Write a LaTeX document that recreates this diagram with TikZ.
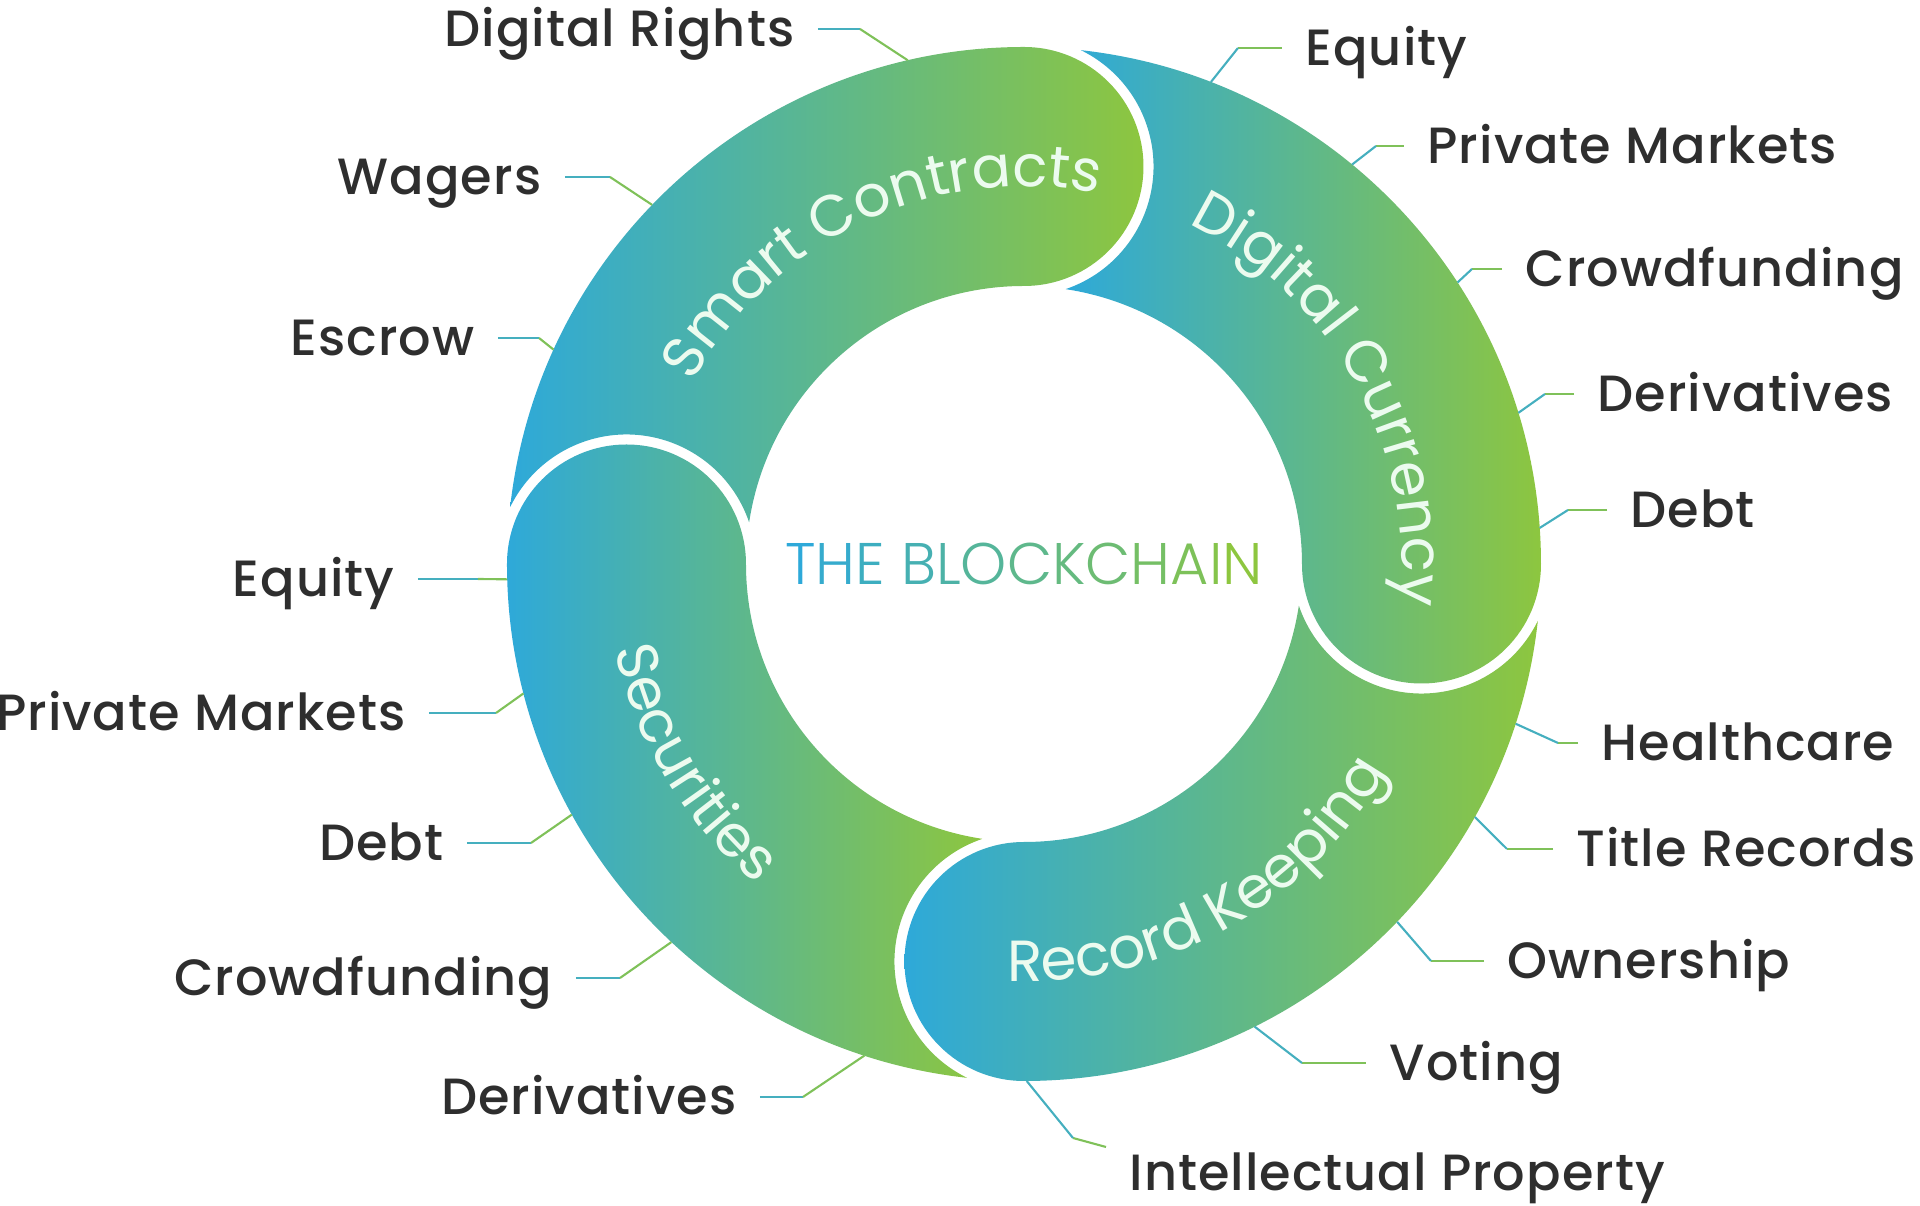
\documentclass[tikz,border=0pt]{standalone}
\usepackage{fontspec}
\setmainfont{Poppins}
\newfontfamily\lightfont{Poppins Light}
\newfontfamily\lblfont{Poppins Medium}[LetterSpace=2.0]
\usetikzlibrary{decorations.text}
\definecolor{bcblue}{HTML}{2EA9D9}
\definecolor{bcgreen}{HTML}{8DC63F}
\definecolor{bcteal}{HTML}{45AFBF}
\definecolor{bctext}{HTML}{2E2E2E}
\definecolor{bcpale}{HTML}{ECFBEF}

\begin{document}
\begin{tikzpicture}[x=0.1mm, y=0.1mm,
  lbl/.style={text=bctext, font=\lblfont\fontsize{14.5}{17}\selectfont, inner xsep=2.3mm, inner ysep=0pt, text height=10.1pt, text depth=0pt},
  lnblue/.style={draw=bcteal, line width=0.6pt},
  lngreen/.style={draw=bcgreen!80!bcteal, line width=0.6pt},
  ringtext/.style={decorate, decoration={text along path, text align=center, text={|\fontsize{16.5}{19}\selectfont\color{bcpale}|#1}}}]
\useasboundingbox (-1024,-642) rectangle (896,564);

% ring pieces: outer 517, inner 278, cap 119.5, gap 10
\foreach \a/\b in {180/90, 90/0, 0/-90, 270/180}
  \shade[left color=bcblue, right color=bcgreen]
    ({\a-6.31}:517) arc[start angle=\a-6.31, end angle=\b, radius=517]
    arc[start angle=\b, end angle=\b-180, radius=119.5]
    arc[start angle=\b, end angle=\a-8.61, radius=278]
    arc[start angle=\a-161.26, end angle=\a-26.03, radius=129.5] -- cycle;

\path[ringtext=Smart Contracts] (160:377.5) arc[start angle=160, end angle=70, radius=377.5];
\path[ringtext=Digital Currency] (74:377.5) arc[start angle=74, end angle=-16, radius=377.5];
\path[ringtext=Record Keeping] (-106:417.5) arc[start angle=-106, end angle=-16, radius=417.5];
\path[ringtext=Securities] (166:417.5) arc[start angle=166, end angle=256, radius=417.5];

\node[font=\lightfont\fontsize{16.7}{19}\selectfont, inner sep=0pt, text height=11.6pt, text depth=0pt] (chain) at (0,0)
  {{\color{bcblue}T}{\color{bcblue!92!bcgreen}H}{\color{bcblue!84!bcgreen}E} {\color{bcblue!75!bcgreen}B}{\color{bcblue!67!bcgreen}L}{\color{bcblue!59!bcgreen}O}{\color{bcblue!50!bcgreen}C}{\color{bcblue!42!bcgreen}K}{\color{bcblue!34!bcgreen}C}{\color{bcblue!25!bcgreen}H}{\color{bcblue!17!bcgreen}A}{\color{bcblue!8!bcgreen}I}{\color{bcgreen}N}};

% left labels
\foreach \txt/\x/\y/\k/\t [count=\i] in {Digital Rights/-206/535/42/103, Wagers/-459/387/45/136, Escrow/-526/226/41/155.5, Equity/-606/-15/60/181.7, Private Markets/-595/-149/67/194.5, Debt/-557/-279/64/209, Crowdfunding/-448/-414/44/227, Derivatives/-264/-533/43/252}
{
  \node[lbl, anchor=east] (L\i) at (\x,\y) {\txt};
  \coordinate (LR\i) at (\t:517);
  \draw[lnblue] (L\i.east) -- ++(\k,0) coordinate (LK\i);
  \draw[lngreen] (LK\i) -- (LR\i);
}

% right labels
\foreach \txt/\x/\y/\k/\t [count=\i] in {Equity/258/516/44/68.8, Private Markets/380/418/28/50.6, Crowdfunding/478/295/30/33, Derivatives/550/170/29/17, Debt/583/54/39/4, Healthcare/554/-179/20/-18, Title Records/529/-285/46/-29.3, Ownership/460/-397/53/-43.8, Voting/342/-499/64/-63.5}
{
  \node[lbl, anchor=west] (R\i) at (\x,\y) {\txt};
  \coordinate (RR\i) at (\t:517);
  \draw[lngreen] (R\i.west) -- ++(-\k,0) coordinate (RK\i);
  \draw[lnblue] (RK\i) -- (RR\i);
}

\node[lbl, anchor=north west, inner ysep=0.7mm] (lProp) at (82,-583) {Intellectual Property};
\coordinate (rProp) at (-89.7:517);
\draw[lngreen] (lProp.north west) -- ++(-33,9) coordinate (kProp);
\draw[lnblue] (kProp) -- (rProp);
\end{tikzpicture}
\end{document}
